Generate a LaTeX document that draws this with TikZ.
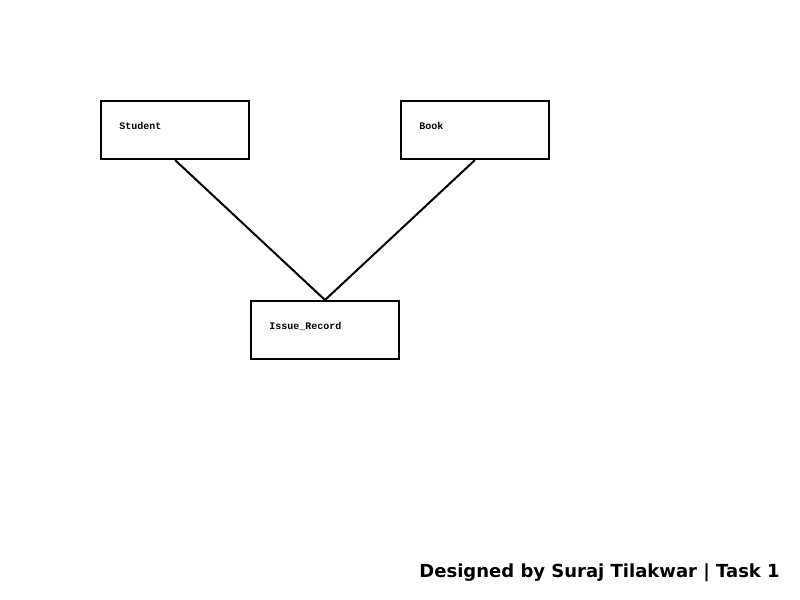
\documentclass[tikz,border=0pt]{standalone}
\usepackage{fontspec}
\setmainfont{DejaVu Sans}
\newfontfamily\boxfont{Liberation Mono}
\usepackage{tikz}
\usetikzlibrary{positioning}

\begin{document}
\begin{tikzpicture}[x=0.75pt,y=-0.75pt,
  entity/.style={draw=black,line width=1.5pt,fill=white,
                 minimum width=111pt,minimum height=43.5pt,inner sep=0pt},
  tag/.style={anchor=west,inner sep=0pt,font=\boxfont\bfseries\fontsize{7.5}{9}\selectfont},
  link/.style={line width=1.5pt,color=black}
]
\useasboundingbox[fill=white] (0,0) rectangle (800,600);

% Entidades
\node[entity] (student) at (175,130) {};
\node[entity] (book)    at (475,130) {};
\node[entity] (issue)   at (325,330) {};

% Etiquetas
\node[tag] (studentlbl) at (119,126) {Student};
\node[tag] (booklbl)    at (419,126) {Book};
\node[tag] (issuelbl)   at (269,326) {Issue\_Record};

% Relaciones
\draw[link] (student.south) -- (issue.north);
\draw[link] (book.south) -- (issue.north);

% Pie
\node[anchor=base east,inner sep=0pt,font=\bfseries\fontsize{13.5}{16}\selectfont]
  (footer) at (780,577) {Designed by Suraj Tilakwar | Task 1};

\end{tikzpicture}
\end{document}
